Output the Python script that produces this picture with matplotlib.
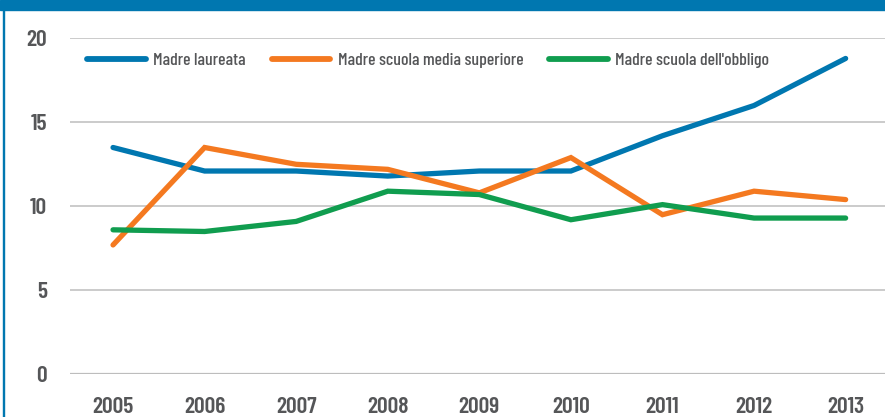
import matplotlib
matplotlib.use("Agg")
import matplotlib.pyplot as plt
from matplotlib.lines import Line2D
from matplotlib.patches import Rectangle

years = [2005, 2006, 2007, 2008, 2009, 2010, 2011, 2012, 2013]
laureata = [13.5, 12.1, 12.1, 11.8, 12.1, 12.1, 14.2, 16.0, 18.8]
superiore = [7.7, 13.5, 12.5, 12.2, 10.8, 12.9, 9.5, 10.9, 10.4]
obbligo = [8.6, 8.5, 9.1, 10.9, 10.7, 9.2, 10.1, 9.3, 9.3]
labels = ["Madre laureata", "Madre scuola media superiore", "Madre scuola dell'obbligo"]
yticks = [0, 5, 10, 15, 20]

BLUE = "#0077B0"
ORANGE = "#F47920"
GREEN = "#109D4F"
TXT = "#555658"
GRID = "#BDBDBD"

plt.rcParams['font.family'] = ['Barlow Condensed', 'Roboto Condensed', 'DejaVu Sans']

W, H = 885, 417
fig = plt.figure(figsize=(W / 100, H / 100), dpi=100)
fig.patch.set_facecolor("white")

ax = fig.add_axes([70 / W, 1 - 374.3 / H, 815 / W, 336 / H])
ax.set_xlim(2004.53, 2013.43)
ax.set_ylim(0, 20)

for v in yticks:
    ax.axhline(v, color=GRID, lw=1.6 if v == 0 else 1.1, zorder=1)

for data, col in zip([laureata, superiore, obbligo], [BLUE, ORANGE, GREEN]):
    ax.plot(years, data, color=col, lw=3.8, solid_capstyle="round",
            solid_joinstyle="miter", zorder=3, clip_on=False)

for s in ax.spines.values():
    s.set_visible(False)
ax.set_xticks(years)
ax.set_xticklabels([str(y) for y in years])
ax.set_yticks(yticks)
ax.set_yticklabels([str(v) for v in yticks])
ax.tick_params(axis="both", length=0, labelsize=17, labelcolor=TXT)
ax.tick_params(axis="y", pad=16.5)
ax.tick_params(axis="x", pad=16)
for t in ax.get_xticklabels() + ax.get_yticklabels():
    t.set_fontweight("semibold")

handles = [Line2D([0], [0], color=c, lw=4.2, solid_capstyle="round") for c in [BLUE, ORANGE, GREEN]]
leg = ax.legend(handles, labels, ncol=3, frameon=False, loc="center left",
                bbox_to_anchor=((87 - 70) / 815, 0.935), borderpad=0, borderaxespad=0,
                handlelength=3.3, handletextpad=0.42, columnspacing=1.45,
                prop={"size": 12.8, "weight": "medium"})
for t in leg.get_texts():
    t.set_color(TXT)

# frame decorations
fig.patches.append(Rectangle((0, 1 - 9.5 / H), 1, 9.5 / H, transform=fig.transFigure,
                             color=BLUE, zorder=5))
fig.patches.append(Rectangle((2.5 / W, 0), 1.8 / W, 1, transform=fig.transFigure,
                             color=BLUE, zorder=5))

fig.savefig("out.png", dpi=100, facecolor="white")
